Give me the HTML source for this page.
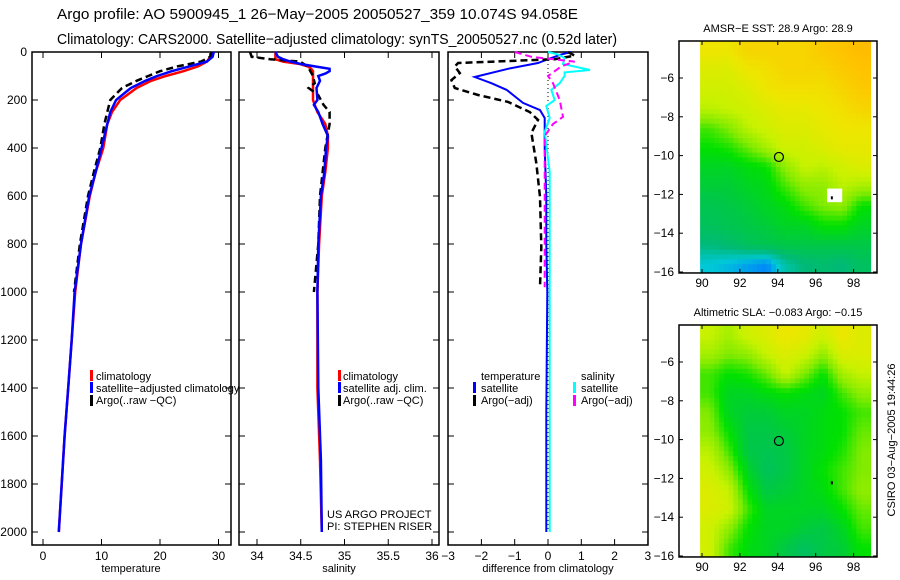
<!DOCTYPE html>
<html><head><meta charset="utf-8"><style>
body{margin:0;background:#fff;}
svg{display:block;font-family:"Liberation Sans",sans-serif;}
</style></head><body>
<svg id="c" width="900" height="580" viewBox="0 0 900 580" xmlns="http://www.w3.org/2000/svg">
<text x="57" y="19" font-size="14.5" textLength="521" lengthAdjust="spacingAndGlyphs">Argo profile: AO 5900945_1 26−May−2005 20050527_359 10.074S 94.058E</text>
<text x="57" y="44" font-size="14.5" textLength="560" lengthAdjust="spacingAndGlyphs">Climatology: CARS2000. Satellite−adjusted climatology: synTS_20050527.nc (0.52d later)</text>
<g id="g"></g>
</svg>
<script>
// ---- profile data ----
const tDepth=[0,20,40,60,80,100,120,150,200,250,300,400,500,600,800,1000,1200,1400,1600,1800,2000];
const tClim=[28.6,28.6,28,26.5,24,21,18.5,16,13.2,11.8,11,10.3,9,8,6.5,5.5,4.9,4.3,3.7,3.2,2.7];
const tSat=[29.2,29,28,25,22,19.5,17.5,15,12.5,11.5,11,10,9,7.9,6.5,5.4,4.9,4.3,3.7,3.2,2.7];
const aDepth=[0,20,40,60,80,100,120,150,200,250,300,400,500,600,800,1000];
const tArgo=[28.8,28.6,27,23,20,18,16,13.5,11.5,11,10.5,9.8,8.7,7.7,6.3,5.3];
const sDepth=[0,20,30,40,50,60,70,80,90,100,120,150,200,220,250,300,350,400,500,600,800,1000,1400,1700,2000];
const sClim=[34.21,34.21,34.21,34.3,34.49,34.58,34.62,34.64,34.64,34.64,34.64,34.64,34.64,34.66,34.69,34.78,34.81,34.81,34.78,34.74,34.71,34.69,34.69,34.72,34.74];
const sSat=[34.21,34.24,34.3,34.38,34.5,34.66,34.83,34.83,34.78,34.7,34.72,34.68,34.69,34.65,34.7,34.75,34.81,34.79,34.77,34.73,34.7,34.69,34.7,34.73,34.74];
const saDepth=[0,20,30,40,60,100,130,150,180,220,250,300,400,600,800,1000];
const sArgo=[33.92,33.94,34.15,34.49,34.58,34.64,34.66,34.59,34.7,34.76,34.83,34.83,34.78,34.72,34.7,34.65];
// differences
const dtDepth=[0,10,30,46,70,104,130,158,190,212,242,275,400,600,800,1000,1500,1900,2000];
const dtSat=[0.7,0.4,0,-0.3,-1.2,-2.2,-1.7,-1.24,-0.95,-0.75,-0.24,-0.1,-0.1,-0.05,-0.05,-0.02,-0.05,-0.05,-0.05];
const daDepth=[0,15,30,46,60,88,117,150,179,208,250,283,337,463,604,812,980];
const dtArgo=[0.6,0.8,0.2,-2.7,-2.8,-2.65,-2.9,-2.8,-2.1,-1.2,-0.55,-0.3,-0.5,-0.35,-0.24,-0.2,-0.24];
const dsDepth=[0,10,25,50,75,85,100,130,158,200,225,275,333,500,1000,2000];
const dsSat=[0,0.3,0.5,0.45,1.26,0.5,0.5,0.35,0.1,0.2,-0.05,0.05,-0.1,0.05,0.05,0.05];
const dsaDepth=[0,20,40,60,100,130,200,270,300,350,600,800,980];
const dsArgo=[-1.0,-0.5,0.8,0.4,0,0.15,0.35,0.45,0.15,-0.1,-0.1,-0.1,-0.1];
// ---- map data (rows lat -4..-16 step 1, cols lon 90..99) colour index 0(blue)..1(orange)
const sstGrid=[
[0.8,0.8,0.85,0.85,0.85,0.85,0.88,0.9,0.92],
[0.75,0.75,0.8,0.82,0.85,0.85,0.85,0.88,0.9],
[0.72,0.72,0.75,0.8,0.82,0.82,0.82,0.85,0.88],
[0.68,0.7,0.72,0.75,0.78,0.78,0.8,0.82,0.85],
[0.55,0.6,0.68,0.72,0.75,0.75,0.78,0.8,0.8],
[0.5,0.52,0.58,0.65,0.72,0.72,0.75,0.78,0.78],
[0.45,0.45,0.48,0.5,0.62,0.7,0.68,0.72,0.75],
[0.42,0.42,0.45,0.47,0.55,0.62,0.62,0.68,0.65],
[0.38,0.4,0.42,0.45,0.48,0.55,0.6,0.62,0.5],
[0.36,0.38,0.4,0.42,0.45,0.45,0.5,0.5,0.45],
[0.3,0.32,0.36,0.38,0.4,0.4,0.4,0.4,0.4],
[0.2,0.18,0.15,0.12,0.25,0.3,0.32,0.3,0.35]];
const slaGrid=[
[0.7,0.65,0.72,0.75,0.8,0.78,0.72,0.8,0.75],
[0.65,0.6,0.62,0.7,0.75,0.72,0.62,0.75,0.75],
[0.55,0.5,0.52,0.58,0.7,0.6,0.5,0.65,0.7],
[0.55,0.45,0.45,0.48,0.5,0.48,0.45,0.55,0.62],
[0.6,0.45,0.42,0.42,0.45,0.45,0.48,0.5,0.55],
[0.62,0.5,0.4,0.4,0.42,0.45,0.48,0.5,0.58],
[0.68,0.55,0.4,0.38,0.4,0.45,0.48,0.52,0.6],
[0.72,0.62,0.45,0.36,0.4,0.45,0.5,0.55,0.6],
[0.75,0.7,0.5,0.4,0.42,0.45,0.48,0.55,0.62],
[0.75,0.72,0.55,0.45,0.45,0.45,0.45,0.5,0.58],
[0.72,0.62,0.5,0.45,0.45,0.42,0.4,0.45,0.55],
[0.72,0.55,0.48,0.45,0.4,0.35,0.4,0.42,0.5]];
const argoLon=94.06, argoLat=-10.07;

const NS="http://www.w3.org/2000/svg";
const G=document.getElementById('g');
function el(t,a,p){const e=document.createElementNS(NS,t);for(const k in a)e.setAttribute(k,a[k]);(p||G).appendChild(e);return e;}
const yD=d=>52+d*0.24;
const Y0=52,Y1=545;
function panel(x0,x1,name){
  const r=el('rect',{x:x0,y:Y0,width:x1-x0,height:Y1-Y0,fill:'none',stroke:'#000','stroke-width':1.5});
  
  
  for(let d=0;d<=2000;d+=200){
    el('line',{x1:x0,x2:x0+6,y1:yD(d),y2:yD(d),stroke:'#000'});
    el('line',{x1:x1-6,x2:x1,y1:yD(d),y2:yD(d),stroke:'#000'});
  }
}
function xticks(vals,fx,labels,name){
  vals.forEach((v,i)=>{const x=fx(v);
    el('line',{x1:x,x2:x,y1:Y1,y2:Y1-6,stroke:'#000'});
    el('line',{x1:x,x2:x,y1:Y0,y2:Y0+6,stroke:'#000'});
    const t=el('text',{x:x,y:560,'font-size':12,'text-anchor':'middle'});t.textContent=labels[i];
    
    
  });
}
function line(depths,vals,fx,color,w,dash,name){
  const pts=depths.map((d,i)=>fx(vals[i]).toFixed(1)+','+yD(d).toFixed(1)).join(' ');
  const p=el('polyline',{points:pts,fill:'none',stroke:color,'stroke-width':w,'stroke-dasharray':dash||'none'});
  
  
}
function txt(x,y,s,size,name,anchor){const t=el('text',{x:x,y:y,'font-size':size,'text-anchor':anchor||'start'});t.textContent=s;
  
  return t;}
function mark(x,y,c){el('rect',{x:x,y:y-10,width:3,height:11,fill:c});}

// Panel 1 temperature
const fT=v=>43+v*5.85;
panel(32,231,'temperature-panel');
xticks([0,10,20,30],fT,['0','10','20','30'],'temperature');
for(let d=0;d<=2000;d+=200) txt(27,yD(d)+4,String(d),12,'depth-tick-label','end');
line(tDepth,tClim,fT,'#f00',2.5,null,'temp-climatology-line');
line(aDepth,tArgo,fT,'#000',2.5,'7,4','temp-argo-line');
line(tDepth,tSat,fT,'#00f',2.5,null,'temp-satellite-line');
txt(131,572,'temperature',11,'x-axis-title-temperature','middle');
mark(90,380,'#f00');txt(96,380,'climatology',11,'legend-climatology');
mark(90,392,'#00f');txt(96,392,'satellite−adjusted climatology',11,'legend-satellite');
mark(90,405,'#000');txt(96,404,'Argo(..raw −QC)',11,'legend-argo');

// Panel 2 salinity
const fS=v=>257+(v-34)*87.5;
panel(239,439,'salinity-panel');
xticks([34,34.5,35,35.5,36],fS,['34','34.5','35','35.5','36'],'salinity');
line(sDepth,sClim,fS,'#f00',2.5,null,'sal-climatology-line');
line(saDepth,sArgo,fS,'#000',2.5,'7,4','sal-argo-line');
line(sDepth,sSat,fS,'#00f',2.5,null,'sal-satellite-line');
txt(339,572,'salinity',11,'x-axis-title-salinity','middle');
mark(338,380,'#f00');txt(343,380,'climatology',11,'legend-climatology-sal');
mark(338,392,'#00f');txt(343,392,'satellite adj. clim.',11,'legend-satellite-sal');
mark(338,405,'#000');txt(343,404,'Argo(..raw −QC)',11,'legend-argo-sal');
txt(327,518,'US ARGO PROJECT',11,'credit-project');
txt(327,530,'PI: STEPHEN RISER',11,'credit-pi');

// Panel 3 differences
const fD=v=>548+v*33.3;
panel(448,648,'difference-panel');
xticks([-3,-2,-1,0,1,2,3],fD,['−3','−2','−1','0','1','2','3'],'difference');
el('line',{x1:fD(0),x2:fD(0),y1:Y0,y2:yD(2000),stroke:'#000','stroke-dasharray':'1,3'});
line(dtDepth,dtSat,fD,'#00f',2,null,'diff-temp-satellite-line');
line(daDepth,dtArgo,fD,'#000',2.5,'7,4','diff-temp-argo-line');
line(dsDepth,dsSat,fD,'#0ff',2,null,'diff-sal-satellite-line');
line(dsaDepth,dsArgo,fD,'#f0f',2,'7,4','diff-sal-argo-line');
txt(548,572,'difference from climatology',11,'x-axis-title-difference','middle');
txt(481,380,'temperature',11,'legend-temperature-header');
mark(473,392,'#00f');txt(481,392,'satellite',11,'legend-temp-satellite');
mark(473,405,'#000');txt(481,404,'Argo(−adj)',11,'legend-temp-argo');
txt(581,380,'salinity',11,'legend-salinity-header');
mark(573,392,'#0ff');txt(581,392,'satellite',11,'legend-sal-satellite');
mark(573,405,'#f0f');txt(581,404,'Argo(−adj)',11,'legend-sal-argo');

// colormap
const cstops=[[0.1,[0,120,255]],[0.2,[0,200,215]],[0.3,[0,185,120]],[0.4,[0,200,70]],[0.5,[0,225,0]],[0.6,[130,235,0]],[0.7,[200,242,0]],[0.8,[238,230,0]],[0.9,[255,195,0]],[1,[255,160,0]]];
function cmap(v){if(v<=cstops[0][0])return 'rgb('+cstops[0][1]+')';
  for(let i=1;i<cstops.length;i++){if(v<=cstops[i][0]){const a=cstops[i-1],b=cstops[i],t=(v-a[0])/(b[0]-a[0]);
    return 'rgb('+a[1].map((c,k)=>Math.round(c+(b[1][k]-c)*t)).join(',')+')';}}
  return 'rgb('+cstops[cstops.length-1][1]+')';}
function map(top,grid,name,title){
  const fx=lon=>702+(lon-90)*18.95, latTop=-6, yAt6=top+37;
  const fy=lat=>yAt6+(latTop-lat)*19.4;
  const bottom=fy(-16.05);
  const x0=679,x1=877;
  const g=el('g',{});
  
  
  const sub=4;
  for(let r=0;r<grid.length;r++)for(let c=0;c<grid[r].length;c++){
    for(let i=0;i<sub;i++)for(let j=0;j<sub;j++){
      const rr=Math.min(r+(i+0.5)/sub-0.5,grid.length-1),cc=Math.min(c+(j+0.5)/sub-0.5,grid[0].length-1);
      const r0=Math.max(0,Math.floor(rr)),c0=Math.max(0,Math.floor(cc)),r1=Math.min(r0+1,grid.length-1),c1=Math.min(c0+1,grid[0].length-1);
      const tr=Math.max(0,rr-r0),tc=Math.max(0,cc-c0);
      const v=(grid[r0][c0]*(1-tc)+grid[r0][c1]*tc)*(1-tr)+(grid[r1][c0]*(1-tc)+grid[r1][c1]*tc)*tr;
      const lon=89.9+c+j/sub, lat=-4.1-r-i/sub;
      const xa=fx(lon), xb=Math.min(fx(lon+1/sub),x1), ya=fy(lat), yb=Math.min(fy(lat-1/sub),bottom);
      if(xa>=x1||ya>=bottom)continue;
      el('rect',{x:xa.toFixed(1),y:ya.toFixed(1),width:(xb-xa+0.5).toFixed(1),height:(yb-ya+0.5).toFixed(1),fill:cmap(v)},g);
    }
  }
  el('rect',{x:x0,y:top,width:x1-x0,height:bottom-top,fill:'none',stroke:'#000','stroke-width':1.5});
  for(let lon=90;lon<=98;lon+=2){const x=fx(lon);
    el('line',{x1:x,x2:x,y1:bottom,y2:bottom-4,stroke:'#000'});el('line',{x1:x,x2:x,y1:top,y2:top+4,stroke:'#000'});
    txt(x,bottom+14,String(lon),12,'map-lon-tick-label','middle');}
  for(let lat=-6;lat>=-16;lat-=2){const y=fy(lat);
    el('line',{x1:x0,x2:x0+4,y1:y,y2:y,stroke:'#000'});el('line',{x1:x1-4,x2:x1,y1:y,y2:y,stroke:'#000'});
    txt(674,y+4,String(lat).replace('-','−'),12,'map-lat-tick-label','end');}
  const ci=el('circle',{cx:fx(argoLon),cy:fy(argoLat),r:4.5,fill:'none',stroke:'#000','stroke-width':1.2});
  
  
  el('rect',{x:fx(96.8),y:fy(-12.15),width:2,height:3,fill:'#000'});
  txt(778,top-9,title,11,name+'-title','middle');
  return {fx,fy};
}
const m1=map(41,sstGrid,'sst-map','AMSR−E SST: 28.9 Argo: 28.9');
el('rect',{x:m1.fx(96.6),y:m1.fy(-11.7),width:m1.fx(97.4)-m1.fx(96.6),height:m1.fy(-12.4)-m1.fy(-11.7),fill:'#fff'});
el('rect',{x:m1.fx(96.8),y:m1.fy(-12.1),width:2,height:3,fill:'#000'});
map(325,slaGrid,'sla-map','Altimetric SLA: −0.083 Argo: −0.15');
const cs=txt(0,0,'CSIRO 03−Aug−2005 19:44:26',11,'timestamp-credit','middle');
cs.setAttribute('transform','translate(895,440) rotate(-90)');
</script>
</body></html>
